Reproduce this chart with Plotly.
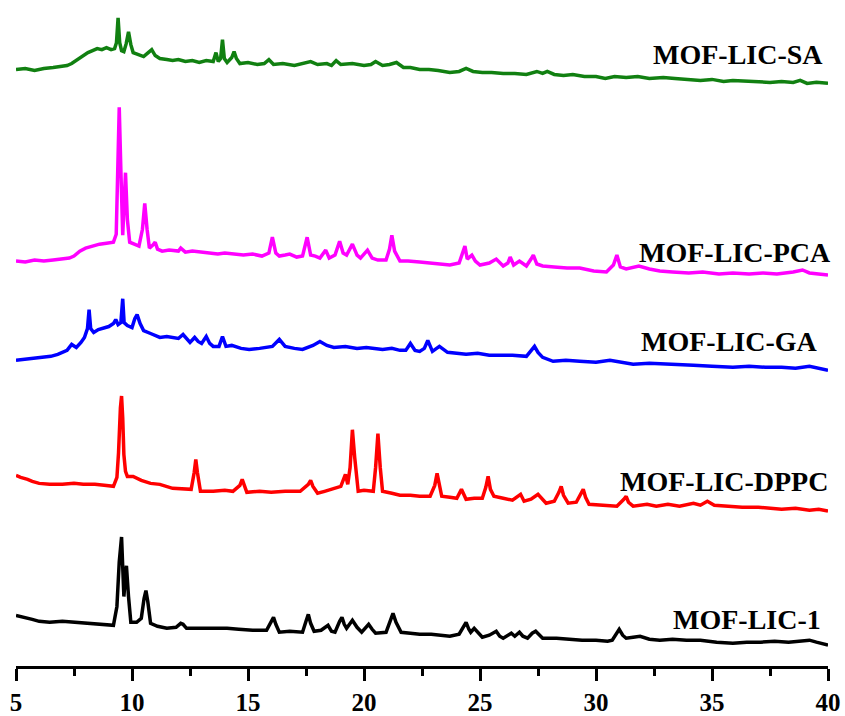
import plotly.graph_objects as go

# 2-theta (deg) and stacked intensity (a.u., offset included)
sa_points = [
    (5.0, 601), (5.4, 602), (5.8, 600), (6.2, 602), (6.6, 603), (7.0, 604), (7.2, 605), (7.4, 607),
    (7.6, 610), (7.75, 613), (7.9, 615), (8.1, 618), (8.3, 620), (8.5, 622), (8.7, 621), (8.9, 623),
    (9.1, 621), (9.25, 622), (9.33, 628), (9.4, 653), (9.47, 628), (9.55, 620), (9.65, 619), (9.75, 627),
    (9.85, 639), (9.95, 626), (10.05, 618), (10.25, 616), (10.5, 614), (10.7, 618), (10.85, 621),
    (11.0, 615), (11.2, 612), (11.5, 611), (11.75, 610), (12.0, 611), (12.3, 609), (12.6, 610),
    (12.9, 608), (13.2, 610), (13.5, 609), (13.62, 618), (13.72, 609), (13.82, 612), (13.9, 631),
    (13.98, 612), (14.1, 608), (14.3, 613), (14.4, 619), (14.5, 612), (14.65, 607), (15.0, 608),
    (15.4, 606), (15.7, 607), (15.9, 611), (16.1, 606), (16.5, 607), (17.0, 605), (17.4, 607),
    (17.7, 609), (18.0, 606), (18.4, 607), (18.6, 605), (18.8, 610), (19.0, 606), (19.5, 607),
    (20.0, 605), (20.3, 606), (20.5, 609), (20.8, 605), (21.1, 606), (21.4, 608), (21.7, 603),
    (22.0, 603), (22.4, 601), (22.8, 601), (23.2, 600), (23.7, 598), (24.1, 599), (24.4, 602),
    (24.7, 599), (25.1, 598), (25.5, 598), (26.0, 597), (26.5, 597), (27.0, 596), (27.45, 599),
    (27.7, 597), (27.9, 599), (28.2, 596), (28.6, 595), (29.0, 596), (29.5, 594), (30.0, 594),
    (30.4, 592), (30.8, 594), (31.3, 593), (31.8, 594), (32.3, 592), (32.9, 593), (33.4, 592),
    (34.0, 591), (34.5, 590), (35.0, 591), (35.5, 589), (35.9, 590), (36.5, 589), (37.0, 589),
    (37.5, 588), (38.0, 589), (38.5, 588), (38.8, 590), (39.1, 587), (39.5, 588), (40.0, 587),
]

pca_points = [
    (5.0, 408), (5.4, 407), (5.8, 409), (6.2, 408), (6.6, 409), (7.0, 410), (7.3, 411), (7.5, 413),
    (7.75, 418), (8.0, 421), (8.3, 423), (8.6, 425), (8.9, 426), (9.2, 427), (9.32, 435), (9.4, 500),
    (9.45, 563), (9.52, 500), (9.6, 434), (9.65, 460), (9.72, 497), (9.8, 450), (9.9, 427),
    (10.1, 425), (10.3, 423), (10.45, 440), (10.55, 466), (10.65, 440), (10.75, 421), (10.9, 424),
    (11.0, 427), (11.1, 420), (11.3, 418), (11.6, 419), (12.0, 418), (12.1, 421), (12.3, 417),
    (12.6, 418), (12.9, 417), (13.3, 416), (13.7, 415), (14.0, 416), (14.35, 415), (14.8, 414),
    (15.2, 415), (15.6, 413), (15.9, 416), (16.05, 432), (16.2, 416), (16.35, 413), (16.6, 414),
    (16.8, 415), (17.1, 412), (17.35, 413), (17.55, 432), (17.7, 414), (17.9, 413), (18.1, 411),
    (18.35, 419), (18.5, 411), (18.75, 414), (18.95, 428), (19.1, 416), (19.25, 414), (19.5, 425),
    (19.7, 414), (19.85, 411), (20.15, 419), (20.35, 411), (20.6, 409), (20.95, 409), (21.1, 420),
    (21.2, 434), (21.32, 418), (21.55, 408), (21.9, 408), (22.4, 407), (22.9, 406), (23.3, 405),
    (23.7, 404), (24.1, 406), (24.25, 415), (24.35, 423), (24.45, 410), (24.65, 414), (24.8, 408),
    (25.0, 404), (25.4, 406), (25.7, 410), (26.0, 403), (26.2, 406), (26.3, 412), (26.45, 404),
    (26.7, 408), (27.0, 403), (27.2, 410), (27.3, 414), (27.45, 405), (27.7, 403), (28.2, 402),
    (28.75, 401), (29.3, 401), (29.9, 398), (30.45, 397), (30.75, 404), (30.9, 414), (31.05, 402),
    (31.3, 400), (31.85, 403), (32.3, 400), (32.75, 398), (33.3, 397), (34.0, 396), (34.6, 397),
    (35.3, 395), (35.9, 396), (36.6, 395), (37.2, 396), (37.8, 395), (38.5, 397), (38.9, 399),
    (39.2, 396), (39.6, 395), (40.0, 394),
]

ga_points = [
    (5.0, 308), (5.4, 309), (5.8, 310), (6.2, 311), (6.5, 312), (6.8, 314), (7.0, 316), (7.2, 318),
    (7.4, 324), (7.5, 322), (7.6, 321), (7.8, 326), (7.95, 331), (8.08, 340), (8.15, 359), (8.22, 340),
    (8.35, 336), (8.55, 339), (8.75, 340), (9.0, 342), (9.2, 345), (9.3, 349), (9.4, 344), (9.52, 346),
    (9.6, 370), (9.66, 346), (9.8, 343), (10.0, 341), (10.12, 350), (10.22, 354), (10.35, 345),
    (10.5, 338), (10.8, 335), (11.0, 333), (11.2, 331), (11.5, 332), (11.75, 331), (12.0, 330),
    (12.2, 334), (12.4, 328), (12.5, 326), (12.7, 331), (12.85, 327), (13.0, 325), (13.2, 332),
    (13.35, 325), (13.5, 322), (13.75, 322), (13.9, 332), (14.05, 322), (14.3, 323), (14.7, 320),
    (15.05, 319), (15.5, 320), (16.05, 322), (16.35, 329), (16.6, 322), (17.0, 320), (17.35, 319),
    (17.8, 323), (18.1, 327), (18.4, 323), (18.7, 321), (19.2, 322), (19.7, 320), (20.1, 321),
    (20.5, 320), (20.8, 319), (21.2, 320), (21.55, 318), (21.8, 318), (22.0, 325), (22.2, 318),
    (22.4, 317), (22.6, 320), (22.75, 328), (22.95, 317), (23.25, 322), (23.6, 316), (24.0, 315),
    (24.4, 314), (24.9, 315), (25.4, 313), (25.85, 313), (26.4, 313), (27.0, 312), (27.2, 317),
    (27.35, 322), (27.5, 316), (27.7, 311), (28.15, 307), (28.7, 308), (29.3, 307), (30.0, 306),
    (30.6, 308), (31.1, 306), (31.6, 304), (32.3, 305), (33.0, 304), (33.6, 303), (34.2, 303),
    (35.0, 302), (35.9, 301), (36.6, 302), (37.3, 301), (38.0, 301), (38.6, 300), (39.2, 302),
    (39.6, 300), (40.0, 298),
]

dppc_points = [
    (5.0, 192), (5.2, 190), (5.5, 188), (5.7, 186), (6.0, 184), (6.45, 183), (7.0, 183), (7.5, 184),
    (7.9, 183), (8.4, 183), (8.8, 182), (9.2, 181), (9.35, 190), (9.42, 215), (9.5, 260), (9.55, 272),
    (9.6, 250), (9.65, 213), (9.72, 196), (9.8, 191), (10.05, 191), (10.4, 187), (10.8, 184),
    (11.2, 183), (11.75, 179), (12.2, 178), (12.55, 178), (12.68, 195), (12.75, 208), (12.82, 195),
    (12.95, 176), (13.5, 176), (14.0, 177), (14.35, 176), (14.65, 182), (14.75, 188), (14.85, 180),
    (14.95, 175), (15.5, 176), (16.0, 175), (16.6, 176), (17.25, 176), (17.6, 183), (17.7, 187),
    (17.8, 181), (18.0, 174), (18.3, 176), (18.6, 178), (19.0, 181), (19.2, 193), (19.3, 183),
    (19.4, 200), (19.5, 238), (19.6, 210), (19.75, 176), (20.0, 177), (20.4, 176), (20.5, 200),
    (20.6, 234), (20.7, 200), (20.8, 176), (21.2, 174), (21.55, 172), (22.0, 172), (22.4, 171),
    (22.85, 171), (23.05, 182), (23.15, 194), (23.25, 180), (23.35, 171), (23.7, 170), (24.0, 169),
    (24.2, 178), (24.4, 168), (24.75, 169), (25.1, 169), (25.25, 180), (25.35, 191), (25.45, 178),
    (25.6, 171), (26.0, 169), (26.4, 167), (26.75, 173), (26.9, 166), (27.2, 168), (27.5, 173),
    (27.85, 164), (28.2, 166), (28.4, 175), (28.5, 181), (28.6, 172), (28.8, 164), (29.15, 165),
    (29.35, 173), (29.45, 178), (29.55, 170), (29.7, 163), (30.3, 162), (30.9, 161), (31.2, 168),
    (31.3, 171), (31.4, 165), (31.6, 161), (32.2, 163), (32.6, 161), (33.1, 163), (33.6, 161),
    (34.2, 164), (34.5, 162), (34.8, 166), (35.1, 162), (35.7, 161), (36.3, 160), (37.0, 160),
    (37.4, 159), (38.0, 158), (38.6, 159), (39.2, 157), (39.6, 158), (40.0, 156),
]

lic1_points = [
    (5.0, 51), (5.2, 50), (5.5, 48), (5.7, 47), (6.0, 45), (6.45, 44), (7.0, 45), (7.5, 44),
    (7.9, 44), (8.4, 43), (8.8, 42), (9.2, 41), (9.35, 60), (9.45, 105), (9.55, 130), (9.6, 100),
    (9.65, 70), (9.7, 85), (9.76, 101), (9.85, 70), (9.95, 44), (10.2, 44), (10.4, 48), (10.52, 68),
    (10.6, 76), (10.68, 65), (10.8, 43), (11.1, 40), (11.5, 38), (11.9, 39), (12.1, 43), (12.2, 42),
    (12.35, 38), (12.8, 38), (13.4, 38), (14.1, 38), (14.6, 37), (15.2, 36), (15.8, 36), (16.0, 44),
    (16.1, 49), (16.2, 42), (16.35, 34), (16.8, 35), (17.35, 34), (17.5, 45), (17.6, 52), (17.7, 43),
    (17.85, 35), (18.15, 36), (18.45, 41), (18.6, 35), (18.75, 34), (18.95, 45), (19.05, 49),
    (19.15, 42), (19.25, 38), (19.5, 46), (19.7, 39), (19.9, 34), (20.1, 40), (20.2, 42), (20.35, 37),
    (20.5, 33), (20.95, 34), (21.15, 46), (21.25, 53), (21.38, 44), (21.6, 34), (22.0, 33),
    (22.4, 32), (22.9, 32), (23.3, 31), (23.7, 30), (24.1, 32), (24.28, 40), (24.4, 44), (24.52, 37),
    (24.6, 34), (24.75, 38), (24.9, 34), (25.1, 29), (25.4, 31), (25.6, 34), (25.7, 35), (25.85, 30),
    (26.0, 28), (26.35, 33), (26.5, 30), (26.7, 34), (26.85, 30), (27.05, 28), (27.25, 33),
    (27.4, 35), (27.55, 31), (27.7, 28), (28.3, 28), (28.9, 27), (29.4, 26), (30.0, 26), (30.5, 25),
    (30.7, 26), (30.9, 33), (31.0, 37), (31.15, 31), (31.3, 28), (31.6, 29), (31.9, 30), (32.3, 27),
    (32.75, 26), (33.3, 27), (33.9, 26), (34.5, 26), (35.2, 24), (35.9, 23), (36.5, 24), (37.1, 24),
    (37.7, 25), (38.3, 24), (38.8, 25), (39.2, 26), (39.5, 24), (40.0, 21),
]

series_names = ["MOF-LIC-SA", "MOF-LIC-PCA", "MOF-LIC-GA", "MOF-LIC-DPPC", "MOF-LIC-1"]
series_points = [sa_points, pca_points, ga_points, dppc_points, lic1_points]
series_colors = ["#118011", "#ff00ff", "#0000ff", "#ff0000", "#000000"]
label_x = [36.14, 36.0, 35.74, 35.5, 36.5]
label_y = [616, 417, 327, 186, 47]

tick_vals = [5, 10, 15, 20, 25, 30, 35, 40]
tick_text = ["5", "10", "15", "20", "25", "30", "35", "40"]

FONT = "Liberation Serif, Times New Roman, serif"

fig = go.Figure()
for name, pts, col in zip(series_names, series_points, series_colors):
    fig.add_trace(go.Scatter(
        x=[p[0] for p in pts], y=[p[1] for p in pts], mode="lines", name=name,
        line=dict(color=col, width=3.5), showlegend=False, hoverinfo="skip",
    ))

for name, lx, ly in zip(series_names, label_x, label_y):
    fig.add_annotation(x=lx, y=ly, xref="x", yref="y", text="<b>" + name + "</b>",
                       showarrow=False, xanchor="center", yanchor="middle",
                       font=dict(family=FONT, size=28, color="black"))

fig.update_layout(
    width=845, height=716,
    margin=dict(l=16, r=17, t=0, b=45),
    paper_bgcolor="white", plot_bgcolor="white",
    xaxis=dict(
        range=[5, 40], tickvals=tick_vals, ticktext=tick_text,
        showline=True, linecolor="black", linewidth=3, mirror=False,
        ticks="outside", ticklen=12, tickwidth=3, tickcolor="black",
        minor=dict(dtick=2.5, tick0=5, ticks="outside", ticklen=7, tickwidth=3, tickcolor="black"),
        showgrid=False, zeroline=False,
        tickfont=dict(family=FONT, size=25, color="black", weight="bold"),
    ),
    yaxis=dict(range=[0, 671], visible=False, showgrid=False, zeroline=False),
)

# remove the default page margin so the figure sits at the window's top-left corner
fig.write_html("out.html", config={"displayModeBar": False},
               post_script="document.body.style.margin='0px'; document.body.style.overflow='hidden';")
